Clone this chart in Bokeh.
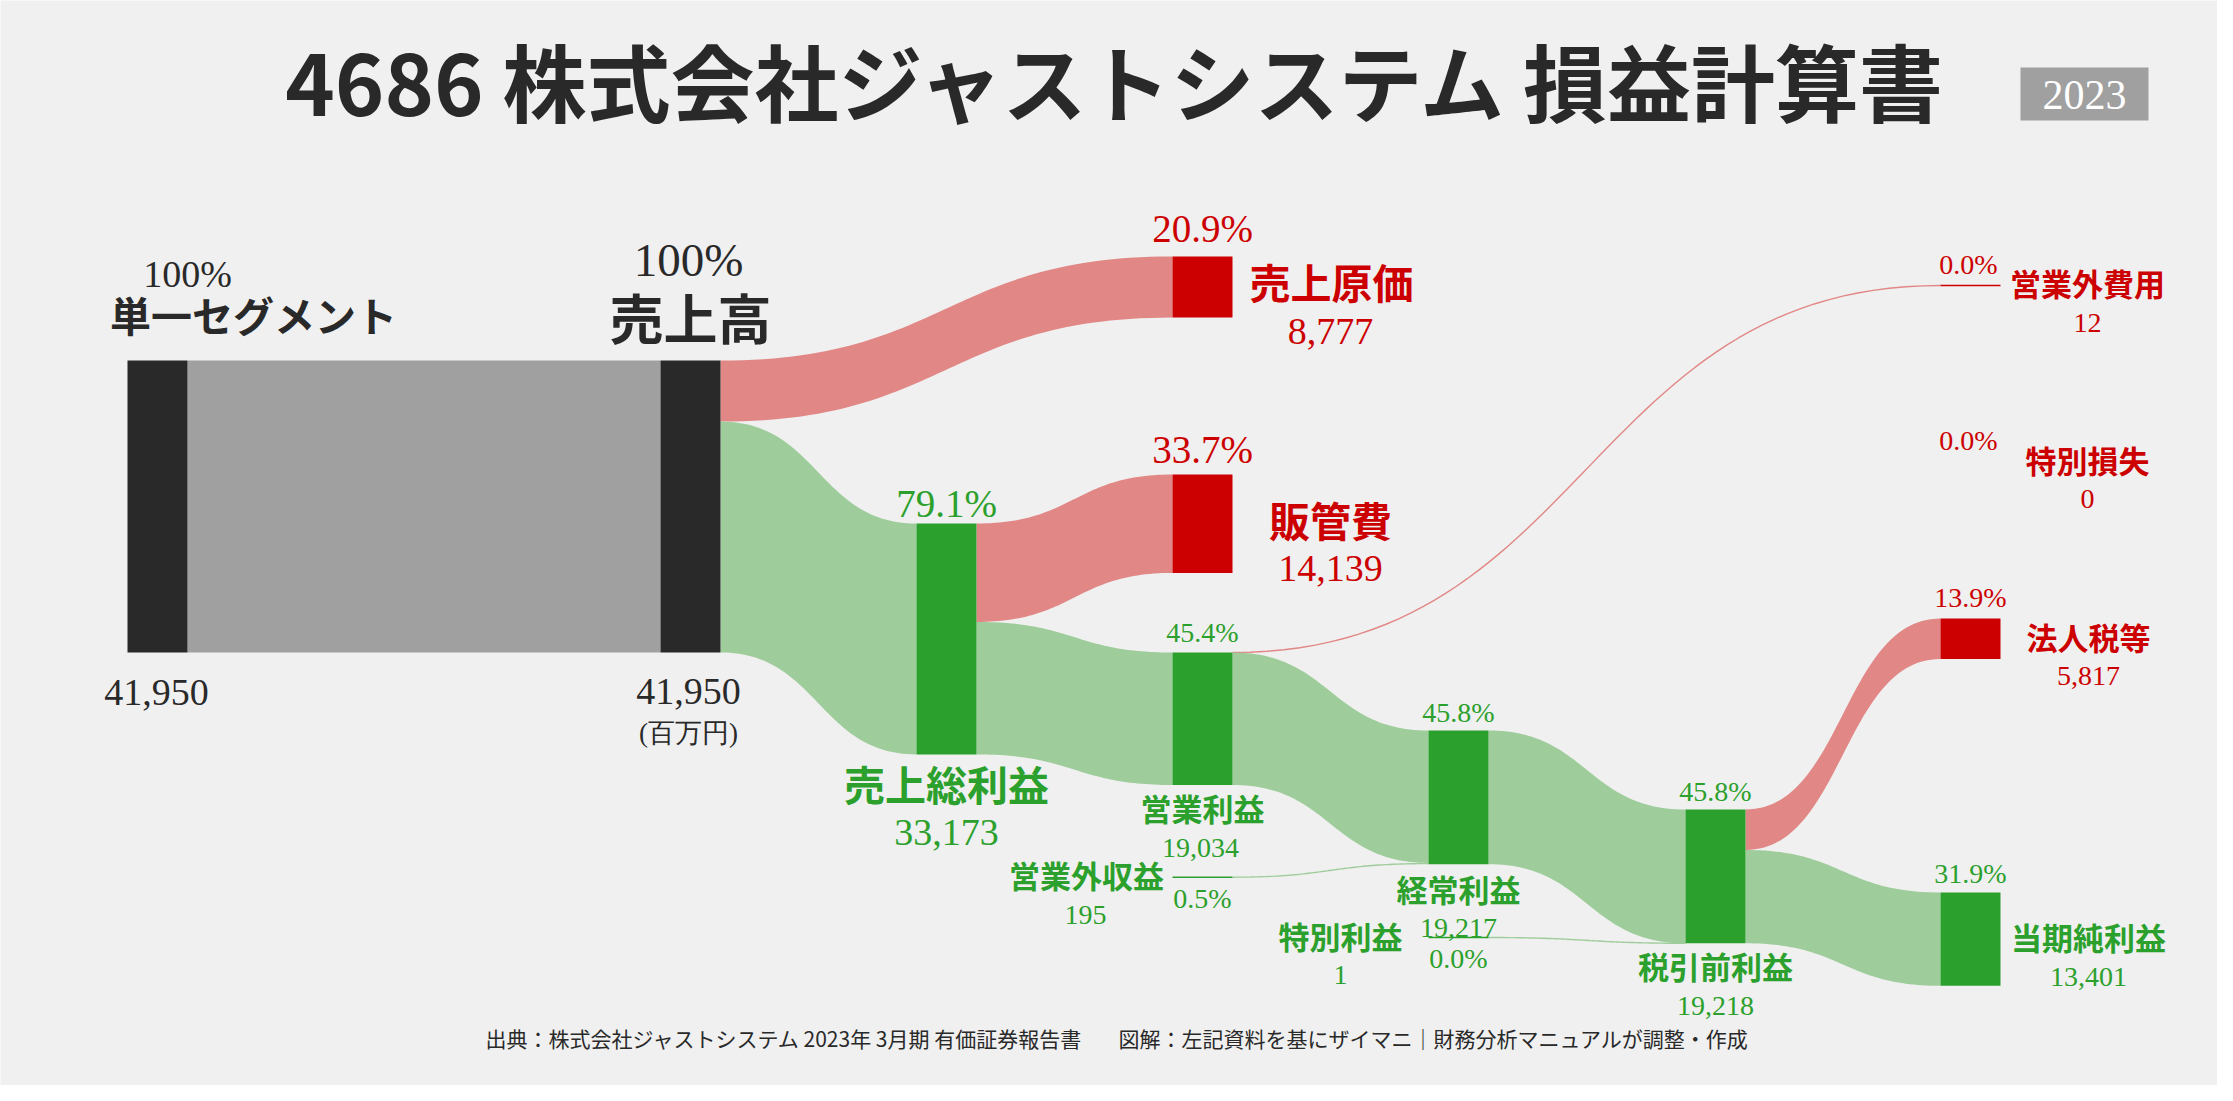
import numpy as np
from bokeh.plotting import figure
from bokeh.models import Range1d
from bokeh.core.properties import value
from bokeh.embed import file_html
from bokeh.resources import INLINE

# ---------------- data ----------------
title_text = "4686 株式会社ジャストシステム 損益計算書"
year_text = "2023"
unit_text = "(百万円)"
source_text = "出典：株式会社ジャストシステム 2023年 3月期 有価証券報告書"
credit_text = "図解：左記資料を基にザイマニ｜財務分析マニュアルが調整・作成"

node_names = ["単一セグメント", "売上高", "売上原価", "売上総利益", "販管費", "営業利益",
              "営業外収益", "営業外費用", "経常利益", "特別利益", "特別損失",
              "税引前利益", "法人税等", "当期純利益"]
node_values = [41950, 41950, 8777, 33173, 14139, 19034, 195, 12, 19217, 1, 0, 19218, 5817, 13401]
node_kind = ["base", "base", "cost", "profit", "cost", "profit", "profit", "cost", "profit",
             "profit", "cost", "profit", "cost", "profit"]

link_src = ["単一セグメント", "売上高", "売上高", "売上総利益", "売上総利益", "営業利益", "営業利益",
            "営業外収益", "経常利益", "特別利益", "税引前利益", "税引前利益"]
link_tgt = ["売上高", "売上原価", "売上総利益", "販管費", "営業利益", "営業外費用", "経常利益",
            "経常利益", "税引前利益", "税引前利益", "法人税等", "当期純利益"]
link_val = [41950, 8777, 33173, 14139, 19034, 12, 19022, 195, 19217, 1, 5817, 13401]

# ---------------- layout ----------------
BG = "#f0f0f0"
DARK = "#292929"
GRAY_LINK = "#a0a0a0"
RED = "#cc0000"
RED_LINK = "#e18785"
GREEN = "#2ca02c"
GREEN_LINK = "#9ecd9b"
NODE_COL = {"base": DARK, "cost": RED, "profit": GREEN}
TEXT_COL = {"base": DARK, "cost": RED, "profit": GREEN}

col_x = [127, 660, 916, 1172, 1428, 1685, 1940]
node_w = 60
px_per_unit = 292.0 / 41950.0
CJK_DY = -3  # vertical correction for bold CJK labels

node_col = {"単一セグメント": 0, "売上高": 1, "売上原価": 3, "売上総利益": 2, "販管費": 3,
            "営業利益": 3, "営業外収益": 3, "営業外費用": 6, "経常利益": 4, "特別利益": 4,
            "特別損失": 6, "税引前利益": 5, "法人税等": 6, "当期純利益": 6}
node_top = {"単一セグメント": 360, "売上高": 360, "売上原価": 256, "売上総利益": 523, "販管費": 474,
            "営業利益": 652, "営業外収益": 876, "営業外費用": 285, "経常利益": 730, "特別利益": 937,
            "特別損失": 461, "税引前利益": 809, "法人税等": 618, "当期純利益": 892}

# label offsets: (reference, dx, dy) for pct / name / value, and font sizes
L = {
    "単一セグメント": dict(p=("top", 30, -87), n=("top", 96, -44), v=("bottom", -1, 40), s=(38, 41, 38)),
    "売上高": dict(p=("top", -2, -101), n=("top", 0, -41), v=("bottom", -2, 39), s=(47, 54, 38)),
    "売上原価": dict(p=("top", 0, -28), n=("right", 99, -3), v=("right", 98, 44), s=(39, 41, 38)),
    "販管費": dict(p=("top", 0, -25), n=("right", 98, -2), v=("right", 98, 45), s=(39, 41, 38)),
    "売上総利益": dict(p=("top", 0, -20), n=("bottom", 0, 32), v=("bottom", 0, 78), s=(39, 41, 38)),
    "営業利益": dict(p=("top", 0, -20), n=("bottom", 0, 26), v=("bottom", -2, 63), s=(28, 31, 28)),
    "営業外収益": dict(p=("bottom", 0, 21), n=("left", -86, 0), v=("left", -87, 38), s=(28, 31, 28)),
    "営業外費用": dict(p=("top", -2, -21), n=("right", 87, 0), v=("right", 87, 37), s=(28, 31, 28)),
    "経常利益": dict(p=("top", 0, -18), n=("bottom", 0, 27), v=("bottom", 0, 64), s=(28, 31, 28)),
    "特別利益": dict(p=("bottom", 0, 21), n=("left", -88, 1), v=("left", -88, 37), s=(28, 31, 28)),
    "特別損失": dict(p=("top", -2, -21), n=("right", 87, 1), v=("right", 87, 37), s=(28, 31, 28)),
    "税引前利益": dict(p=("top", 0, -18), n=("bottom", 0, 25), v=("bottom", 0, 63), s=(28, 31, 28)),
    "法人税等": dict(p=("top", 0, -21), n=("right", 88, 1), v=("right", 88, 37), s=(28, 31, 28)),
    "当期純利益": dict(p=("top", 0, -19), n=("right", 88, 0), v=("right", 88, 38), s=(28, 31, 28)),
}

SERIF = "Liberation Serif"
SANS = "Noto Sans CJK JP"

# ---------------- figure ----------------
p = figure(width=2217, height=1085, x_range=Range1d(0, 2217), y_range=Range1d(1085, 0),
           output_backend="svg", toolbar_location=None, min_border=0,
           x_axis_location=None, y_axis_location=None)
p.grid.visible = False
p.outline_line_color = None
p.background_fill_color = BG
p.border_fill_color = BG

kind = dict(zip(node_names, node_kind))
val = dict(zip(node_names, node_values))
base = node_values[0]

geom = {}
for n in node_names:
    left = col_x[node_col[n]]
    top = node_top[n]
    h = val[n] * px_per_unit
    geom[n] = dict(left=left, right=left + node_w, top=top, bottom=top + h,
                   cx=left + node_w / 2, cy=top + h / 2, h=h)

# ---- links ----
out_off = {n: geom[n]["top"] for n in node_names}
in_off = {n: geom[n]["top"] for n in node_names}
t = np.linspace(0, 1, 60)


def bez(x0, y0, x1, y1):
    xm = (x0 + x1) / 2
    xs = (1 - t) ** 3 * x0 + 3 * (1 - t) ** 2 * t * xm + 3 * (1 - t) * t ** 2 * xm + t ** 3 * x1
    ys = (1 - t) ** 3 * y0 + 3 * (1 - t) ** 2 * t * y0 + 3 * (1 - t) * t ** 2 * y1 + t ** 3 * y1
    return xs, ys


for s, d, v in zip(link_src, link_tgt, link_val):
    w = v * px_per_unit
    x0 = geom[s]["right"]
    x1 = geom[d]["left"]
    y0 = out_off[s]
    y1 = in_off[d]
    out_off[s] += w
    in_off[d] += w
    if kind[s] == "base" and kind[d] == "base":
        col = GRAY_LINK
    elif kind[d] == "cost":
        col = RED_LINK
    else:
        col = GREEN_LINK
    if w >= 1.5:
        xa, ya = bez(x0, y0, x1, y1)
        xb, yb = bez(x0, y0 + w, x1, y1 + w)
        p.patch(list(xa) + list(xb[::-1]), list(ya) + list(yb[::-1]),
                fill_color=col, line_color=None)
    else:
        xa, ya = bez(x0, y0 + w / 2, x1, y1 + w / 2)
        p.line(xa, ya, line_color=col, line_width=1.4)

# ---- nodes ----
for n in node_names:
    g = geom[n]
    c = NODE_COL[kind[n]]
    if g["h"] >= 1.5:
        p.quad(left=g["left"], right=g["right"], top=g["top"], bottom=g["bottom"],
               fill_color=c, line_color=None)
    elif val[n] > 0:
        p.segment(x0=g["left"], x1=g["right"], y0=g["cy"], y1=g["cy"],
                  line_color=c, line_width=1.5)


# ---- labels ----
def txt(x, y, s, size, color, font, bold=False, align="center"):
    p.text(x=[x], y=[y], text=[s], text_font=value(font), text_font_size=f"{size}px",
           text_color=color, text_align=align, text_baseline="middle",
           text_font_style="bold" if bold else "normal")


def ref_point(g, r):
    if r == "top":
        return g["cx"], g["top"]
    if r == "bottom":
        return g["cx"], g["bottom"]
    if r == "right":
        return g["right"], g["cy"]
    return g["left"], g["cy"]


for n in node_names:
    g = geom[n]
    spec = L[n]
    c = TEXT_COL[kind[n]]
    v = val[n]
    pct = "100%" if v == base else f"{v / base * 100:.1f}%"
    sp, sn, sv = spec["s"]
    r, dx, dy = spec["p"]
    x, y = ref_point(g, r)
    txt(x + dx, y + dy, pct, sp, c, SERIF)
    r, dx, dy = spec["n"]
    x, y = ref_point(g, r)
    txt(x + dx, y + dy + CJK_DY, n, sn, c, SANS, bold=True)
    r, dx, dy = spec["v"]
    x, y = ref_point(g, r)
    txt(x + dx, y + dy, f"{v:,}", sv, c, SERIF)

g = geom["売上高"]
txt(g["cx"] - 2, g["bottom"] + 80, unit_text, 27, DARK, SERIF)

# title, year badge, footer
txt(1117, 79, title_text, 84, DARK, SANS, bold=True)
p.quad(left=2020, right=2148, top=67, bottom=120, fill_color="#a0a0a0", line_color=None)
txt(2084, 94, year_text, 42, "#ffffff", SERIF)
txt(485, 1037, source_text, 21, DARK, SANS, bold=False, align="left")
txt(1748, 1037, credit_text, 21, DARK, SANS, bold=False, align="right")

open("out.html", "w").write(file_html(p, INLINE))
